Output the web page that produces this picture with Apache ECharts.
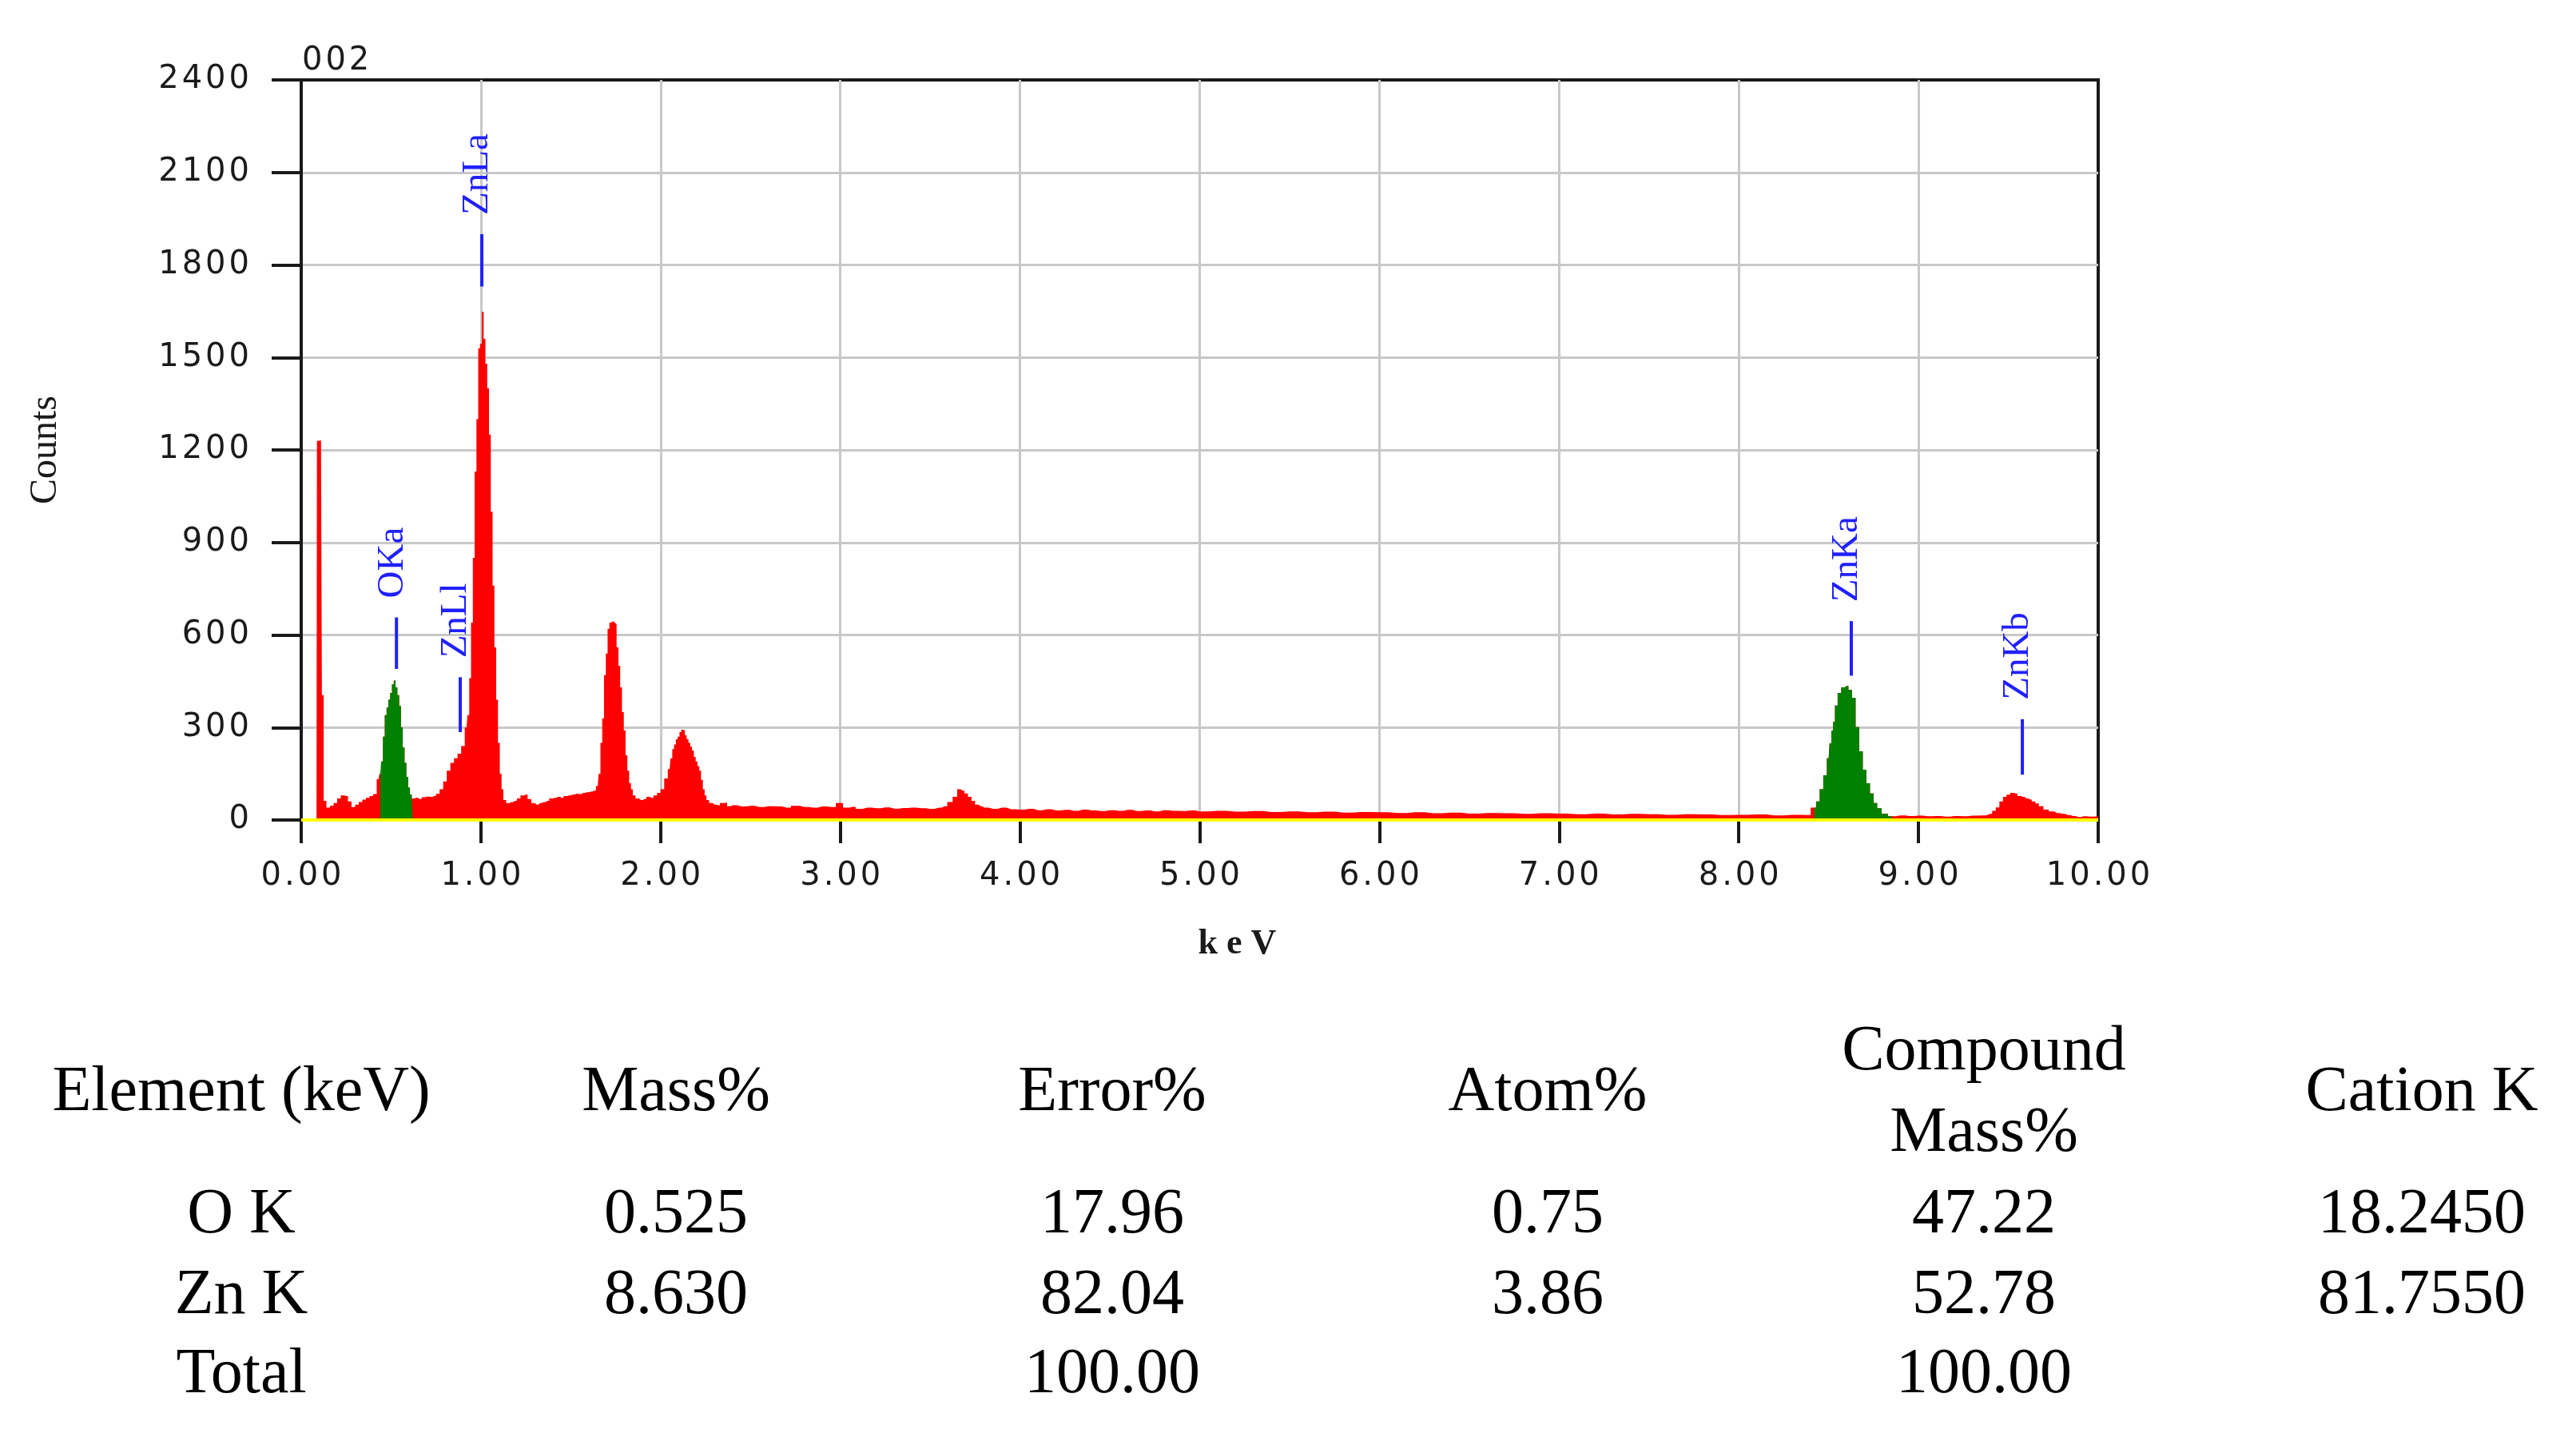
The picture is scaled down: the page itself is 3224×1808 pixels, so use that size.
<!DOCTYPE html>
<html><head><meta charset="utf-8">
<script src="https://cdn.jsdelivr.net/npm/echarts@6/dist/echarts.min.js"></script>
<style>html,body{margin:0;padding:0;background:#fff}#c{width:3224px;height:1808px}</style>
</head><body><div id="c"></div>
<script>
// ---------------- DATA ----------------
// EDS spectrum: [energy keV, counts]
const spectrumPoints = [
  [0.00,0],[0.085,0],[0.09,1230],[0.11,1231],[0.12,405],[0.13,62],[0.15,40],[0.17,46],[0.19,55],[0.21,70],
  [0.23,80],[0.25,78],[0.27,60],[0.29,42],[0.31,50],[0.33,58],[0.35,66],[0.37,72],[0.39,78],[0.41,84],[0.43,132],
  [0.44,150],[0.45,190],[0.46,270],[0.47,340],[0.48,365],[0.49,390],[0.50,412],[0.51,440],[0.52,452],[0.53,430],
  [0.54,405],[0.55,370],[0.56,300],[0.57,235],[0.58,185],[0.59,140],[0.60,105],[0.61,82],[0.62,70],
  [0.64,72],[0.66,68],[0.68,74],[0.70,76],[0.72,75],[0.74,78],[0.76,85],[0.78,100],[0.80,125],[0.82,160],
  [0.84,185],[0.86,200],[0.88,215],[0.90,240],[0.92,300],[0.93,340],[0.94,460],[0.95,640],[0.96,850],[0.97,1130],
  [0.98,1300],[0.99,1530],[1.00,1545],[1.01,1648],[1.02,1560],[1.03,1480],[1.04,1400],[1.05,1250],[1.06,1000],
  [1.07,760],[1.08,560],[1.09,390],[1.10,250],[1.11,150],[1.12,100],[1.13,65],
  [1.15,55],[1.17,58],[1.19,62],[1.21,70],[1.23,80],[1.25,82],[1.27,68],[1.29,55],[1.31,50],[1.33,55],[1.35,58],
  [1.37,62],[1.39,70],[1.41,72],[1.43,75],[1.45,72],[1.47,78],[1.49,80],[1.51,82],[1.53,85],[1.55,84],[1.57,88],
  [1.59,90],[1.61,92],[1.63,95],
  [1.65,110],[1.66,150],[1.67,250],[1.68,330],[1.69,470],[1.70,540],[1.71,620],[1.72,640],[1.73,645],[1.74,640],
  [1.75,635],[1.76,560],[1.77,500],[1.78,430],[1.79,350],[1.80,290],[1.81,210],[1.82,160],[1.83,120],[1.84,100],[1.85,80],
  [1.87,70],[1.89,65],[1.91,68],[1.93,75],[1.95,72],[1.97,80],[1.99,88],[2.01,100],[2.03,135],[2.05,165],[2.06,200],
  [2.07,230],[2.08,245],[2.09,262],[2.10,270],[2.11,285],[2.12,293],[2.13,290],[2.14,275],[2.15,262],[2.16,250],
  [2.17,238],[2.18,225],[2.19,205],[2.20,190],[2.21,175],[2.22,160],[2.23,130],[2.24,100],[2.25,80],[2.26,65],
  [2.28,55],[2.30,50],[2.32,48],[2.34,55],[2.36,56],[2.38,45],[2.40,48],[2.45,44],[2.50,46],[2.55,42],[2.60,45],
  [2.65,44],[2.70,40],[2.75,46],[2.80,42],[2.85,40],[2.90,44],[2.95,42],[3.00,55],[3.03,40],[3.07,43],[3.10,36],
  [3.15,40],[3.20,38],[3.25,41],[3.30,37],[3.35,39],[3.40,40],[3.45,38],[3.50,36],[3.55,40],[3.58,45],[3.61,58],
  [3.64,75],[3.66,100],[3.68,95],[3.70,86],[3.72,75],[3.74,62],[3.76,50],[3.78,45],[3.80,40],[3.85,36],[3.90,40],
  [3.95,35],[4.00,34],[4.05,36],[4.10,32],[4.15,35],[4.20,31],[4.25,33],[4.30,30],[4.35,34],[4.40,31],[4.45,29],
  [4.50,32],[4.55,30],[4.60,33],[4.65,29],[4.70,31],[4.75,28],[4.80,32],[4.85,30],[4.90,29],[4.95,31],[5.00,28],
  [5.10,30],[5.20,27],[5.30,29],[5.40,26],[5.50,28],[5.60,25],[5.70,27],[5.80,24],[5.90,26],[6.00,25],[6.10,23],
  [6.20,25],[6.30,22],[6.40,24],[6.50,21],[6.60,23],[6.70,22],[6.80,20],[6.90,22],[7.00,21],[7.10,19],[7.20,21],
  [7.30,18],[7.40,20],[7.50,19],[7.60,17],[7.70,19],[7.80,18],[7.90,16],[8.00,17],[8.10,18],[8.20,15],[8.30,17],
  [8.38,16],[8.42,40],[8.44,60],[8.46,100],[8.48,145],[8.50,200],[8.51,249],[8.52,290],[8.53,319],[8.54,371],
  [8.56,412],[8.58,430],[8.60,435],[8.62,422],[8.64,396],[8.66,301],[8.68,223],[8.70,163],[8.72,119],[8.74,86],
  [8.76,55],[8.78,38],[8.81,20],[8.85,12],[8.90,15],[8.95,13],[9.00,14],[9.05,12],[9.10,13],[9.15,11],[9.20,13],
  [9.25,12],[9.30,14],[9.35,15],[9.40,20],[9.42,30],[9.44,41],[9.46,60],[9.48,75],[9.50,82],[9.52,88],[9.54,86],
  [9.56,78],[9.58,75],[9.60,70],[9.62,67],[9.64,60],[9.66,54],[9.68,45],[9.71,34],[9.74,28],[9.77,23],[9.80,20],
  [9.83,16],[9.86,13],[9.89,10],[9.92,12],[9.95,11],[10.00,12]
];
// energy windows of the fitted (green) peaks, keV
const okaWindow = [0.44, 0.62];
const znkaWindow = [8.42, 8.85];

// peak markers: name, energy (keV), marker line from / to (counts)
const peakNames  = ['OKa', 'ZnLl', 'ZnLa', 'ZnKa', 'ZnKb'];
const peakEnergy = [0.53, 0.885, 1.005, 8.626, 9.578];
const peakLineLow  = [490, 285, 1730, 468, 147];
const peakLineHigh = [657, 463, 1900, 645, 327];

// axis ticks
const xTickInterval = 1, xMin = 0, xMax = 10;
const yTickInterval = 300, yMin = 0, yMax = 2400;
const sampleLabel = '002';
const xAxisTitle = 'keV';
const yAxisTitle = 'Counts';

// table
const tableHeaders = ['Element (keV)', 'Mass%', 'Error%', 'Atom%', 'Compound\nMass%', 'Cation K'];
const elementNames = ['O K', 'Zn K', 'Total'];
const massPct      = ['0.525', '8.630', ''];
const errorPct     = ['17.96', '82.04', '100.00'];
const atomPct      = ['0.75', '3.86', ''];
const compoundMass = ['47.22', '52.78', '100.00'];
const cationK      = ['18.2450', '81.7550', ''];

// ---------------- CHART ----------------
const AX = '#1a1a1a';
const GRIDC = '#c8c8c8';
const BLUE = '#2020ff';
const spaced = s => s.split('').join('\u200A');
const inWin = w => spectrumPoints.filter(p => p[0] >= w[0] - 1e-9 && p[0] <= w[1] + 1e-9);

const chart = echarts.init(document.getElementById('c'), null, {renderer: 'canvas'});

const tableCols = [302, 846, 1392, 1937, 2483, 3031];
const headerY = 1368, rowYs = [1521, 1622, 1721];
const tableFont = '80px "Liberation Serif"';
const graphics = [];
tableHeaders.forEach((h, i) => {
  graphics.push({type: 'text', x: tableCols[i], y: headerY, style: {text: h, font: tableFont, fill: '#000', align: 'center', verticalAlign: 'middle', lineHeight: 102}});
});
const columns = [elementNames, massPct, errorPct, atomPct, compoundMass, cationK];
columns.forEach((col, ci) => col.forEach((v, ri) => {
  if (v) graphics.push({type: 'text', x: tableCols[ci], y: rowYs[ri], style: {text: v, font: tableFont, fill: '#000', align: 'center', verticalAlign: 'middle'}});
}));
graphics.push({type: 'text', x: 378, y: 77, style: {text: spaced(sampleLabel), font: '40px "DejaVu Sans"', fill: AX, align: 'left', verticalAlign: 'middle'}});

const option = {
  animation: false,
  backgroundColor: '#fff',
  grid: {left: 377, top: 100, right: 3224 - 2626, bottom: 1808 - 1026, show: true, borderColor: AX, borderWidth: 4,
         backgroundColor: 'rgba(0,0,0,0)', containLabel: false, outerBoundsMode: 'none'},
  xAxis: {
    type: 'value', min: xMin, max: xMax, interval: xTickInterval,
    name: xAxisTitle.split('').join(' '), nameLocation: 'middle', nameGap: 134,
    nameTextStyle: {fontFamily: 'Liberation Serif', fontWeight: 'bold', fontSize: 44, color: AX, padding: [0, 0, 0, 94]},
    axisLine: {show: true, onZero: false, lineStyle: {color: AX, width: 4}},
    axisTick: {show: true, inside: false, length: 29, lineStyle: {color: AX, width: 4}},
    axisLabel: {margin: 51, color: AX, fontFamily: 'DejaVu Sans', fontSize: 40, formatter: v => spaced(v.toFixed(2))},
    splitLine: {show: true, showMinLine: false, showMaxLine: false, lineStyle: {color: GRIDC, width: 3}}
  },
  yAxis: {
    type: 'value', min: yMin, max: yMax, interval: yTickInterval,
    name: yAxisTitle, nameLocation: 'middle', nameRotate: 90, nameGap: 296,
    nameTextStyle: {fontFamily: 'Liberation Serif', fontSize: 48, color: AX},
    axisLine: {show: true, lineStyle: {color: AX, width: 4}},
    axisTick: {show: true, inside: false, length: 37, lineStyle: {color: AX, width: 4}},
    axisLabel: {margin: 65, color: AX, fontFamily: 'DejaVu Sans', fontSize: 40, formatter: v => spaced(String(v))},
    splitLine: {show: true, showMinLine: false, showMaxLine: false, lineStyle: {color: GRIDC, width: 3}}
  },
  series: [
    {
      type: 'line', name: 'spectrum', data: spectrumPoints, step: 'middle', symbol: 'none', showSymbol: false,
      lineStyle: {width: 0, color: '#ff0000'}, itemStyle: {color: '#ff0000'},
      areaStyle: {color: '#ff0000', opacity: 1}, z: 2, silent: true,
      markLine: {silent: true, symbol: ['none', 'none'], label: {show: false}, animation: false,
                 lineStyle: {color: '#ffff00', width: 4, type: 'solid'}, data: [{yAxis: 0}]}
    },
    {
      type: 'line', name: 'OKa fit', data: inWin(okaWindow), step: 'middle', symbol: 'none', showSymbol: false,
      lineStyle: {width: 0, color: '#008000'}, itemStyle: {color: '#008000'},
      areaStyle: {color: '#008000', opacity: 1}, z: 4, silent: true
    },
    {
      type: 'line', name: 'ZnKa fit', data: inWin(znkaWindow), step: 'middle', symbol: 'none', showSymbol: false,
      lineStyle: {width: 0, color: '#008000'}, itemStyle: {color: '#008000'},
      areaStyle: {color: '#008000', opacity: 1}, z: 4, silent: true
    },
    {
      type: 'custom', name: 'peaks', coordinateSystem: 'cartesian2d', z: 5, silent: true, clip: false,
      data: peakEnergy.map((e, i) => [e, peakLineLow[i], peakLineHigh[i]]),
      renderItem: (params, api) => {
        const lo = api.coord([api.value(0), api.value(1)]);
        const hi = api.coord([api.value(0), api.value(2)]);
        return {type: 'group', children: [
          {type: 'line', shape: {x1: lo[0], y1: lo[1], x2: hi[0], y2: hi[1]}, style: {stroke: BLUE, lineWidth: 4}},
          {type: 'text', x: hi[0] - 5, y: hi[1] - 24, rotation: Math.PI / 2,
           style: {text: peakNames[params.dataIndex], font: '47px "Liberation Serif"', fill: BLUE, align: 'left', verticalAlign: 'middle'}}
        ]};
      }
    }
  ],
  graphic: graphics
};
chart.setOption(option);
</script></body></html>
